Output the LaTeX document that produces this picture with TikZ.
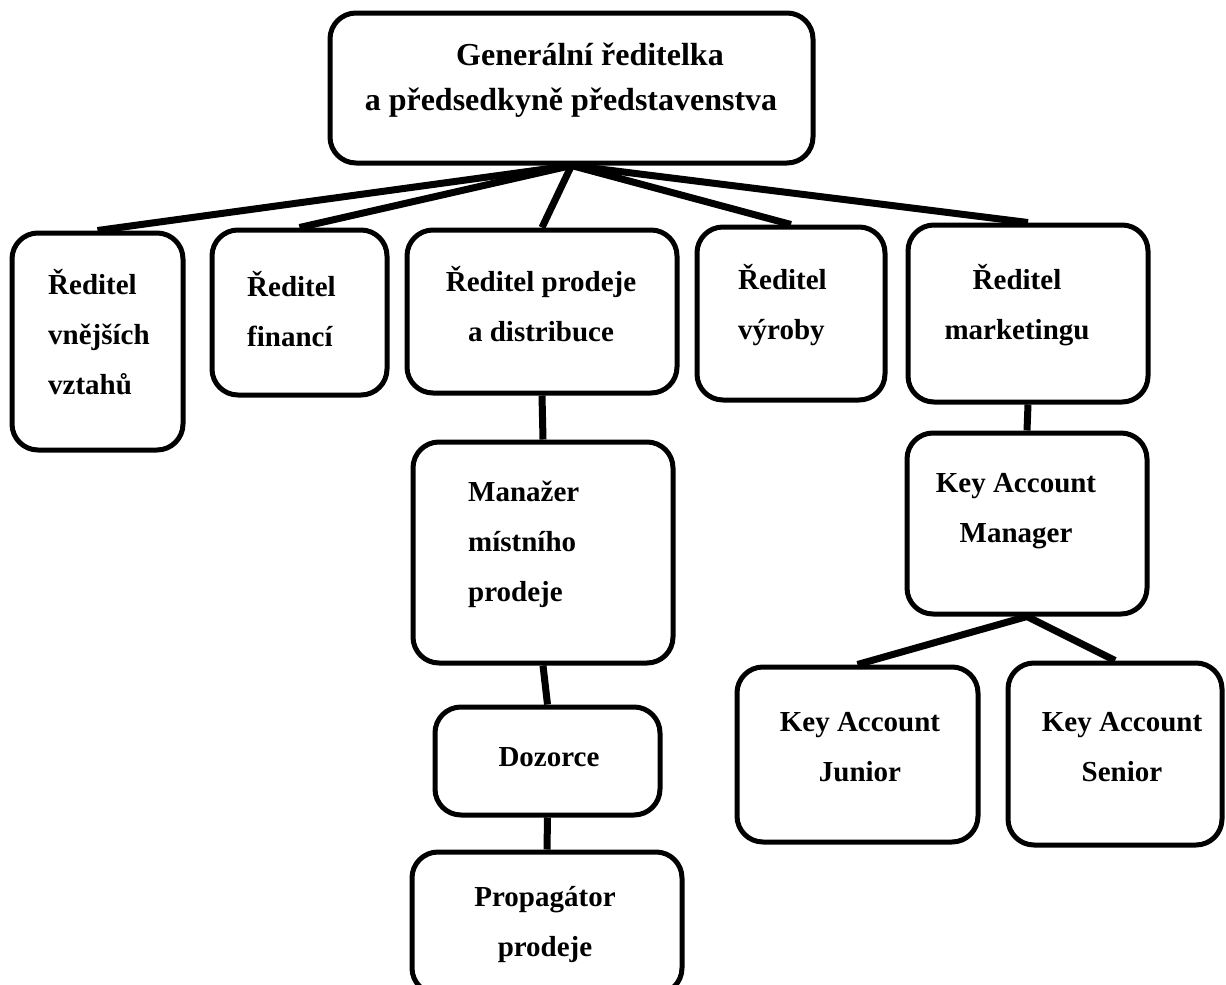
\documentclass[tikz,border=0pt]{standalone}
\usepackage{fontspec}
\setmainfont{Liberation Serif}
\newcommand\ctext[1]{\begin{tabular}[t]{@{}c@{}}#1\end{tabular}}
\newcommand\ltext[1]{\begin{tabular}[t]{@{}l@{}}#1\end{tabular}}
\tikzset{
  box/.style={draw=black, line width=5pt, rounded corners=26pt, rectangle, inner sep=0pt},
  conn/.style={draw=black, line width=7pt},
  lblc/.style={anchor=base, inner sep=0pt, font=\fontsize{29}{50}\selectfont\bfseries},
  lbll/.style={anchor=base west, inner sep=0pt, font=\fontsize{29}{50}\selectfont\bfseries},
}
\begin{document}
\begin{tikzpicture}[x=1pt,y=-1pt]
\useasboundingbox[fill=white] (0,0) rectangle (1226,985);
% boxes
\node[box, minimum width=483pt, minimum height=150pt] (top) at (571.5,88) {};
\node[box, minimum width=171pt, minimum height=217pt] (b1) at (97.5,341.5) {};
\node[box, minimum width=175pt, minimum height=165pt] (b2) at (299.5,312.5) {};
\node[box, minimum width=270pt, minimum height=163pt] (b3) at (542,311.5) {};
\node[box, minimum width=188pt, minimum height=173pt] (b4) at (791,313.5) {};
\node[box, minimum width=240pt, minimum height=177pt] (b5) at (1028,313.5) {};
\node[box, minimum width=260pt, minimum height=221pt] (b6) at (543,552.5) {};
\node[box, minimum width=225pt, minimum height=108pt] (b7) at (547.5,761) {};
\node[box, minimum width=270pt, minimum height=142pt] (b8) at (547,923) {};
\node[box, minimum width=240pt, minimum height=181pt] (b9) at (1027,523.5) {};
\node[box, minimum width=241pt, minimum height=175pt] (b10) at (857.5,754.5) {};
\node[box, minimum width=214pt, minimum height=182pt] (b11) at (1115,754) {};
% texts
\node[anchor=base, inner sep=0pt, font=\fontsize{32}{45}\selectfont\bfseries] (ttop) at (571,65)
  {\ctext{\hspace*{38pt}Generální ředitelka\\a předsedkyně představenstva}};
\node[lbll] (t1) at (48,294) {\ltext{Ředitel\\vnějších\\vztahů}};
\node[lbll] (t2) at (247,296) {\ltext{Ředitel\\financí}};
\node[lblc] (t3) at (541,291) {\ctext{Ředitel prodeje\\a distribuce}};
\node[lbll] (t4) at (738,289) {\ltext{Ředitel\\výroby}};
\node[lblc] (t5) at (1017,289) {\ctext{Ředitel\\marketingu}};
\node[lbll] (t6) at (468,501) {\ltext{Manažer\\místního\\prodeje}};
\node[lblc] (t7) at (549,766) {\ctext{Dozorce}};
\node[lblc] (t8) at (545,906) {\ctext{Propagátor\\prodeje}};
\node[lblc] (t9) at (1016,492) {\ctext{Key Account\\Manager}};
\node[lblc] (t10) at (860,731) {\ctext{Key Account\\Junior}};
\node[lblc] (t11) at (1122,731) {\ctext{Key Account\\Senior}};
% connectors
\draw[conn] (top.south) -- (b1.north);
\draw[conn] (top.south) -- (b2.north);
\draw[conn] (top.south) -- (b3.north);
\draw[conn] (top.south) -- (b4.north);
\draw[conn] (top.south) -- (b5.north);
\draw[conn] (b3.south) -- (b6.north);
\draw[conn] (b6.south) -- (b7.north);
\draw[conn] (b7.south) -- (b8.north);
\draw[conn] (b5.south) -- (b9.north);
\draw[conn] (b9.south) -- (b10.north);
\draw[conn] (b9.south) -- (b11.north);
\end{tikzpicture}
\end{document}
